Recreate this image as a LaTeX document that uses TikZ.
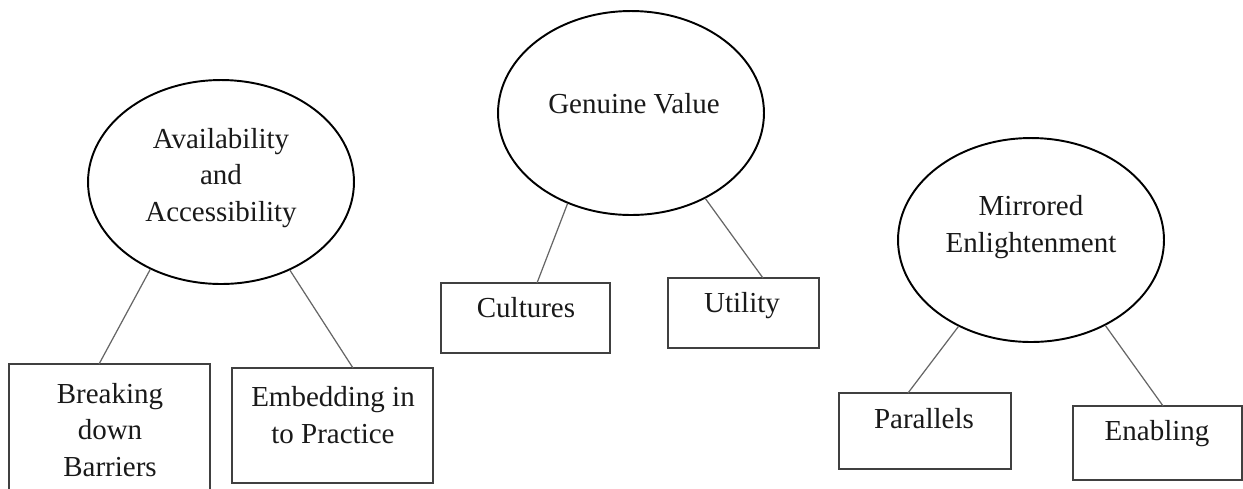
\documentclass[tikz,border=0pt]{standalone}
\usepackage{fontspec}
\setmainfont{Liberation Serif}
\usetikzlibrary{shapes.geometric,calc}
\begin{document}
\begin{tikzpicture}[x=0.02cm,y=-0.02cm,
  oval/.style={draw=black,line width=1.1pt,ellipse,minimum width=5.32cm,minimum height=4.08cm,inner sep=0pt},
  boxnode/.style={draw=black!75,line width=0.8pt,rectangle,inner sep=0pt,outer sep=0pt},
  label text/.style={font=\fontsize{16.5}{21}\selectfont,align=center,inner sep=0pt,text=black!90},
  link/.style={draw=black!60,line width=0.7pt}]
\useasboundingbox (0,0) rectangle (1243,488);
% ellipses
\node[oval] (e1) at (221,182) {};
\node[oval] (e2) at (631,113) {};
\node[oval] (e3) at (1031,240) {};
\node[label text] (t1) at (221,178) {Availability\\and\\Accessibility};
\node[label text,anchor=base] (t2) at (634,113) {Genuine Value};
\node[label text] (t3) at (1031,227) {Mirrored\\Enlightenment};
% boxes
\node[boxnode,minimum width=4.02cm,minimum height=2.56cm] (b1) at (109.5,428) {};
\node[boxnode,minimum width=4.02cm,minimum height=2.30cm] (b2) at (332.5,425.5) {};
\node[boxnode,minimum width=3.38cm,minimum height=1.40cm] (b3) at (525.5,318) {};
\node[boxnode,minimum width=3.02cm,minimum height=1.40cm] (b4) at (743.5,313) {};
\node[boxnode,minimum width=3.44cm,minimum height=1.52cm] (b5) at (925,431) {};
\node[boxnode,minimum width=3.38cm,minimum height=1.48cm] (b6) at (1157.5,443) {};
\node[label text] (s1) at (110,430) {Breaking\\down\\Barriers};
\node[label text] (s2) at (333,415) {Embedding in\\to Practice};
\node[label text,anchor=base] (s3) at (526,317) {Cultures};
\node[label text,anchor=base] (s4) at (742,312) {Utility};
\node[label text,anchor=base] (s5) at (924,428) {Parallels};
\node[label text,anchor=base] (s6) at (1157,440) {Enabling};
% connectors
\draw[link] (e1.231.7) -- ($(b1.north west)!0.448!(b1.north east)$);
\draw[link] (e1.308.7) -- ($(b2.north west)!0.602!(b2.north east)$);
\draw[link] (e2.235.7) -- ($(b3.north west)!0.568!(b3.north east)$);
\draw[link] (e2.311.5) -- ($(b4.north west)!0.629!(b4.north east)$);
\draw[link] (e3.230.3) -- ($(b5.north west)!0.401!(b5.north east)$);
\draw[link] (e3.311.9) -- ($(b6.north west)!0.533!(b6.north east)$);
\end{tikzpicture}
\end{document}
